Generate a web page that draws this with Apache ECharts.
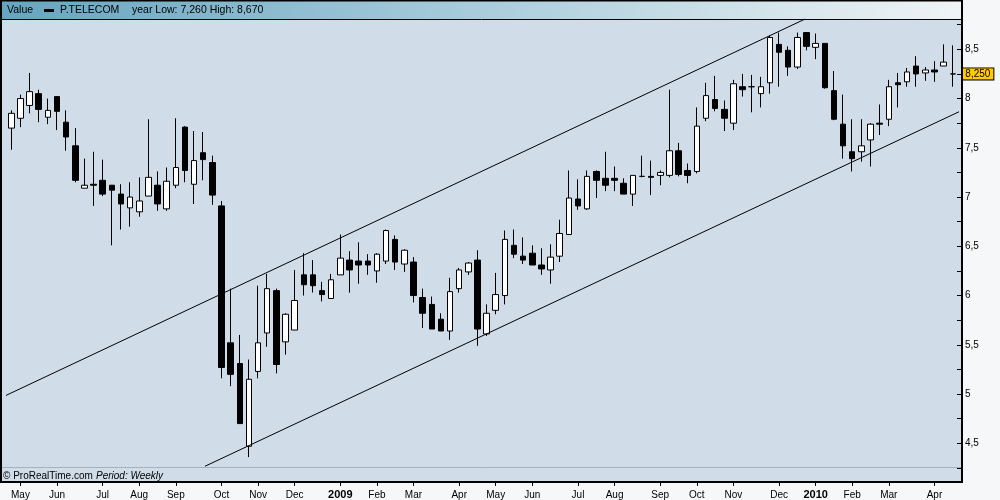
<!DOCTYPE html>
<html>
<head>
<meta charset="utf-8">
<script src="https://cdn.jsdelivr.net/npm/echarts@6/dist/echarts.min.js"></script>
<style>
html,body{margin:0;padding:0;background:#f5f7f9;}
#chart{width:1000px;height:500px;}
</style>
</head>
<body>
<div id="chart"></div>
<script>
// ---- DATA ----
const weeks = [
'2008-04-28','2008-05-05','2008-05-12','2008-05-19','2008-05-26','2008-06-02','2008-06-09','2008-06-16','2008-06-23','2008-06-30',
'2008-07-07','2008-07-14','2008-07-21','2008-07-28','2008-08-04','2008-08-11','2008-08-18','2008-08-25','2008-09-01','2008-09-08',
'2008-09-15','2008-09-22','2008-09-29','2008-10-06','2008-10-13','2008-10-20','2008-10-27','2008-11-03','2008-11-10','2008-11-17',
'2008-11-24','2008-12-01','2008-12-08','2008-12-15','2008-12-22','2008-12-29','2009-01-05','2009-01-12','2009-01-19','2009-01-26',
'2009-02-02','2009-02-09','2009-02-16','2009-02-23','2009-03-02','2009-03-09','2009-03-16','2009-03-23','2009-03-30','2009-04-06',
'2009-04-13','2009-04-20','2009-04-27','2009-05-04','2009-05-11','2009-05-18','2009-05-25','2009-06-01','2009-06-08','2009-06-15',
'2009-06-22','2009-06-29','2009-07-06','2009-07-13','2009-07-20','2009-07-27','2009-08-03','2009-08-10','2009-08-17','2009-08-24',
'2009-08-31','2009-09-07','2009-09-14','2009-09-21','2009-09-28','2009-10-05','2009-10-12','2009-10-19','2009-10-26','2009-11-02',
'2009-11-09','2009-11-16','2009-11-23','2009-11-30','2009-12-07','2009-12-14','2009-12-21','2009-12-28','2010-01-04','2010-01-11',
'2010-01-18','2010-01-25','2010-02-01','2010-02-08','2010-02-15','2010-02-22','2010-03-01','2010-03-08','2010-03-15','2010-03-22',
'2010-03-29','2010-04-05','2010-04-12','2010-04-19'
];
const opens = [
7.70,7.80,7.93,8.05,7.81,8.02,7.76,7.52,7.09,7.13,
7.17,7.12,7.03,6.89,6.85,7.01,7.12,6.88,7.12,7.71,
7.13,7.45,7.35,6.91,5.52,5.31,4.47,5.23,5.62,6.05,
5.53,5.65,6.21,6.21,6.05,5.97,6.21,6.36,6.35,6.35,
6.25,6.35,6.57,6.32,6.34,5.98,5.91,5.76,5.64,6.07,
6.24,6.36,5.61,5.85,6.00,6.51,6.40,6.43,6.31,6.26,
6.40,6.62,6.98,6.88,7.26,7.19,7.19,7.14,7.03,7.21,
7.21,7.22,7.22,7.47,7.27,7.26,7.80,7.99,7.89,7.75,
8.12,8.12,8.05,8.16,8.55,8.49,8.32,8.67,8.52,8.56,
8.08,7.74,7.46,7.46,7.58,7.75,7.79,8.16,8.17,8.33,
8.26,8.29,8.33,8.25
];
const closes = [
7.85,8.00,8.07,7.89,7.88,7.87,7.61,7.17,7.12,7.12,
7.03,7.07,6.93,7.00,6.96,7.20,6.93,7.16,7.30,7.27,
7.37,7.38,7.02,5.27,5.20,4.70,5.15,5.52,6.07,5.30,
5.81,5.95,6.11,6.10,6.01,6.16,6.38,6.26,6.31,6.31,
6.42,6.66,6.34,6.46,6.00,5.82,5.66,5.64,6.04,6.26,
6.33,5.66,5.82,6.01,6.57,6.42,6.36,6.31,6.27,6.39,
6.63,6.99,6.91,7.21,7.17,7.12,7.17,7.03,7.22,7.21,
7.20,7.25,7.47,7.23,7.22,7.72,8.03,7.90,7.80,8.15,
8.09,8.12,8.12,8.62,8.47,8.32,8.62,8.53,8.56,8.11,
7.79,7.52,7.39,7.52,7.74,7.74,8.12,8.14,8.27,8.25,
8.29,8.27,8.37,8.25
];
const lows = [
7.48,7.71,7.85,7.76,7.74,7.68,7.47,7.15,7.09,6.91,
7.01,6.51,6.67,6.70,6.80,7.01,6.86,6.86,7.09,7.15,
6.93,7.17,6.92,5.16,5.08,4.70,4.36,5.16,5.48,5.21,
5.40,5.65,6.00,6.03,5.94,5.97,6.21,6.03,6.12,6.21,
6.13,6.32,6.26,6.24,5.93,5.67,5.66,5.64,5.55,6.03,
6.21,5.49,5.59,5.81,5.91,6.38,6.32,6.31,6.21,6.12,
6.34,6.62,6.87,6.87,6.99,7.06,7.06,7.03,6.91,7.20,
7.02,7.12,7.20,7.21,7.14,7.24,7.77,7.87,7.67,7.68,
8.02,7.86,7.91,8.05,8.12,8.23,8.30,8.49,8.40,8.10,
7.78,7.39,7.26,7.36,7.31,7.63,7.72,7.91,8.12,8.12,
8.18,8.17,8.33,8.12
];
const highs = [
7.88,8.04,8.26,8.09,8.00,8.02,7.88,7.70,7.39,7.46,
7.38,7.12,7.13,7.15,7.20,7.79,7.26,7.30,7.80,7.72,
7.67,7.66,7.42,6.96,6.07,5.60,5.35,6.10,6.22,6.07,
5.82,6.26,6.43,6.36,6.14,6.22,6.62,6.45,6.54,6.42,
6.43,6.67,6.61,6.47,6.39,6.07,5.99,5.82,6.18,6.28,
6.34,6.46,5.91,6.23,6.66,6.67,6.59,6.51,6.48,6.52,
6.77,7.27,7.18,7.27,7.27,7.46,7.31,7.19,7.22,7.42,
7.37,7.27,8.09,7.55,7.34,7.91,8.16,8.23,7.98,8.19,
8.25,8.24,8.22,8.64,8.67,8.53,8.67,8.67,8.66,8.56,
8.28,8.04,7.79,7.79,7.75,7.94,8.19,8.26,8.31,8.43,
8.32,8.38,8.55,8.54
];
// trend channel endpoints: [week index, price]
const channelUpper = [[-1.02, 4.967], [86.84, 8.807]];
const channelLower = [[21.19, 4.267], [104.03, 7.881]];
// x-axis month ticks
const tickWeeks = ['2008-05-05','2008-06-02','2008-07-07','2008-08-04','2008-09-01','2008-10-06','2008-11-03','2008-12-01',
'2009-01-05','2009-02-02','2009-03-02','2009-04-06','2009-05-04','2009-06-01','2009-07-06','2009-08-03','2009-09-07',
'2009-10-05','2009-11-02','2009-12-07','2010-01-04','2010-02-01','2010-03-01','2010-04-05'];
const tickNames = ['May','Jun','Jul','Aug','Sep','Oct','Nov','Dec','2009','Feb','Mar','Apr','May','Jun','Jul','Aug','Sep',
'Oct','Nov','Dec','2010','Feb','Mar','Apr'];
const lastPrice = closes[closes.length - 1];

// ---- CHART ----
const candles = opens.map((o, i) => [o, closes[i], lows[i], highs[i]]);
const FONT = '"Liberation Sans", Arial, sans-serif';
const chart = echarts.init(document.getElementById('chart'), null, {renderer: 'canvas'});

const gridLeft = 6.73, gridRight = 42.67, gridTop = 24.675, gridBottom = 500 - 467.925;
const isTick = (i) => tickWeeks.indexOf(weeks[i]) >= 0;

chart.setOption({
  animation: false,
  backgroundColor: '#f5f7f9',
  grid: {left: gridLeft, right: gridRight, top: gridTop, bottom: gridBottom, containLabel: false, outerBoundsMode: 'none'},
  graphic: [
    {type: 'rect', z: -10, shape: {x: 1, y: 0, width: 961, height: 482}, style: {fill: '#d0dce8'}},
    {type: 'rect', z: -9, shape: {x: 1, y: 0, width: 961, height: 19},
      style: {fill: new echarts.graphic.LinearGradient(0, 0, 1, 0, [{offset: 0, color: '#66a5c0'}, {offset: 0.5, color: '#a9cddc'}, {offset: 1, color: '#f0f4f5'}])}},
    {type: 'line', z: -8, shape: {x1: 1, y1: 19.5, x2: 962, y2: 19.5}, style: {stroke: '#000', lineWidth: 1}},
    {type: 'line', z: -8, shape: {x1: 2, y1: 467.5, x2: 961, y2: 467.5}, style: {stroke: '#a3b2c1', lineWidth: 1}},
    {type: 'rect', z: 50, shape: {x: 1, y: 0.5, width: 961, height: 481.5}, style: {fill: 'none', stroke: '#000', lineWidth: 2}},
    {type: 'text', z: 51, x: 7, y: 10, style: {text: 'Value', font: '10.5px ' + FONT, fill: '#000', verticalAlign: 'middle'}},
    {type: 'rect', z: 51, shape: {x: 44, y: 9, width: 10, height: 3}, style: {fill: '#000'}},
    {type: 'text', z: 51, x: 60, y: 10, style: {text: 'P.TELECOM', font: '10.5px ' + FONT, fill: '#000', verticalAlign: 'middle'}},
    {type: 'text', z: 51, x: 132, y: 10, style: {text: 'year Low: 7,260 High: 8,670', font: '10.5px ' + FONT, fill: '#000', verticalAlign: 'middle'}},
    {type: 'text', z: 51, x: 3, y: 476, style: {text: '\u00a9 ProRealTime.com', font: '10px ' + FONT, fill: '#000', verticalAlign: 'middle'}},
    {type: 'text', z: 51, x: 96, y: 476, style: {text: 'Period: Weekly', font: 'italic 10px ' + FONT, fill: '#000', verticalAlign: 'middle'}}
  ],
  xAxis: [
    {
      type: 'category', data: weeks, boundaryGap: true, offset: 14,
      axisLine: {show: false, onZero: false},
      axisTick: {show: true, alignWithLabel: true, length: 4, lineStyle: {color: '#000'},
        interval: (i) => isTick(i)},
      axisLabel: {
        interval: (i) => isTick(i),
        margin: 8, fontSize: 10, fontFamily: FONT, color: '#000',
        formatter: (v) => { const k = tickWeeks.indexOf(v); if (k < 0) return ''; const n = tickNames[k]; return /^\d{4}$/.test(n) ? '{b|' + n + '}' : n; },
        rich: {b: {fontWeight: 'bold', fontSize: 11, fontFamily: FONT, color: '#000'}}
      },
      splitLine: {show: false}
    },
    {type: 'value', min: -0.5, max: weeks.length - 0.5, show: false, axisLine: {onZero: false}}
  ],
  yAxis: {
    type: 'value', position: 'right', min: 4.25, max: 8.75, interval: 0.25, offset: 4.67,
    axisLine: {show: false, onZero: false},
    axisTick: {show: true, inside: true, length: 5, lineStyle: {color: '#000'}},
    axisLabel: {margin: 3, fontSize: 10, fontFamily: FONT, color: '#000', showMinLabel: true, showMaxLabel: true,
      formatter: (v) => Math.abs(v * 2 - Math.round(v * 2)) < 1e-6 ? String(Math.round(v * 100) / 100).replace('.', ',') : ''},
    splitLine: {show: false}
  },
  series: [
    {
      type: 'candlestick', name: 'P.TELECOM', data: candles, barWidth: 6, z: 2,
      itemStyle: {color: '#ffffff', color0: '#000000', borderColor: '#000000', borderColor0: '#000000', borderColorDoji: '#000000', borderWidth: 1},
      markLine: {
        silent: true, symbol: ['none', 'none'], animation: false,
        lineStyle: {color: 'rgba(0,0,0,0)', width: 0},
        label: {show: true, position: 'end', distance: 5, formatter: () => lastPrice.toFixed(3).replace('.', ','),
          backgroundColor: '#ffcc00', borderColor: '#000', borderWidth: 1, padding: [1, 3, 0, 3],
          fontSize: 10, fontFamily: FONT, color: '#000'},
        data: [{yAxis: lastPrice}]
      }
    },
    {type: 'line', xAxisIndex: 1, data: channelUpper, showSymbol: false, symbol: 'none', clip: false, z: 3,
      lineStyle: {color: '#000', width: 1}, silent: true},
    {type: 'line', xAxisIndex: 1, data: channelLower, showSymbol: false, symbol: 'none', clip: false, z: 3,
      lineStyle: {color: '#000', width: 1}, silent: true}
  ]
});
</script>
</body>
</html>
